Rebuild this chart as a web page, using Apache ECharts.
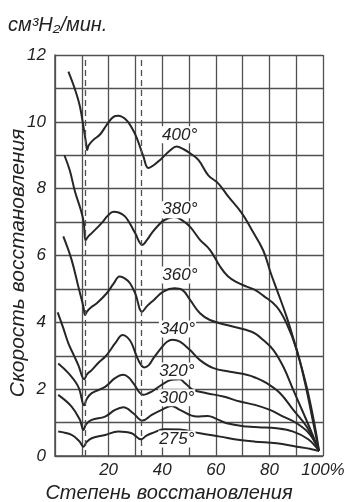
<!DOCTYPE html>
<html><head><meta charset="utf-8">
<script src="https://cdn.jsdelivr.net/npm/echarts@6/dist/echarts.min.js"></script>
<style>html,body{margin:0;padding:0;background:#fff}#c{width:348px;height:502px}</style>
</head><body><div id="c"></div>
<script>
// ---- data ----
const xLabelText = {20:'20', 40:'40', 60:'60', 80:'80', 100:'100%'};
const yLabelValues = [0, 2, 4, 6, 8, 10, 12];
const dashedX = [11.2, 32];
const curveNames = ['400°', '380°', '360°', '340°', '320°', '300°', '275°'];

const c400 = [[5,11.5],[7.5,10.96],[9.3,10.46],[10.6,9.86],[11.6,9.36],[12.0,9.16],[12.6,9.3],[14.3,9.46],[16.8,9.62],[19.3,9.91],[21.8,10.15],[23.6,10.18],[26.7,10.05],[28.8,9.8],[30.5,9.52],[33,8.96],[34.8,8.62],[36.8,8.7],[39.2,8.86],[42.9,9.14],[45.4,9.26],[48,9.18],[50.4,9.06],[53.5,8.86],[57.2,8.4],[60.9,8.16],[64.7,7.76],[69.7,7.27],[73.4,6.77],[77.7,6.15],[80.4,5.5],[82.8,4.97],[86.4,4.17],[90.2,3.17],[93.9,2.07],[97,0.88],[98.5,0.15]];
const c380 = [[3.5,9.0],[5.5,8.55],[7.5,7.9],[9.5,7.4],[10.7,7.0],[11.4,6.45],[12.2,6.55],[13.7,6.67],[17.4,6.97],[19.8,7.2],[21.8,7.31],[24,7.28],[26.1,7.17],[28,6.95],[29.9,6.67],[32.6,6.32],[34.2,6.45],[36.1,6.67],[38.5,6.9],[41,7.07],[44.5,7.15],[47.5,7.05],[50.5,6.85],[54.1,6.47],[57.8,6.17],[61.6,5.67],[64.5,5.38],[67.8,5.2],[71.5,5.07],[74.6,4.97],[77.7,4.8],[82.7,4.47],[86.4,3.97],[90.2,3.17],[93.3,2.18],[96.4,0.98],[98.5,0.15]];
const c360 = [[3.1,6.57],[6.2,5.87],[8.7,5.07],[10.6,4.47],[11.2,4.22],[12,4.33],[13.5,4.45],[15.6,4.57],[19.3,4.87],[21.8,5.15],[24.1,5.37],[26.3,5.3],[28,5.17],[30,4.85],[32.5,4.32],[34.5,4.5],[36.9,4.67],[40.4,4.92],[44.6,5.02],[47.5,4.97],[50.4,4.67],[54.1,4.27],[57.8,4.07],[64.1,3.92],[71.5,3.77],[74.6,3.67],[77.7,3.47],[81.5,3.17],[85.2,2.67],[88.9,1.98],[92.7,1.28],[96.4,0.58],[98.5,0.15]];
const c340 = [[1,4.3],[3,3.85],[5,3.37],[7,3.02],[8.7,2.72],[10.9,2.3],[12,2.45],[13.7,2.57],[16.3,2.8],[18.7,2.97],[20.5,3.15],[22.4,3.37],[25.3,3.62],[27,3.55],[28.6,3.37],[31.1,2.87],[33.3,2.65],[35,2.72],[36.5,2.9],[39.8,3.25],[41.8,3.42],[43.8,3.48],[46.6,3.42],[50.4,3.17],[54.1,2.87],[59.1,2.63],[65.3,2.52],[71.5,2.43],[74.6,2.35],[79,2.18],[84,1.88],[88.9,1.38],[93.9,0.88],[98.5,0.15]];
const c320 = [[1.2,2.77],[5,2.48],[8.7,2.07],[10.9,1.52],[11.8,1.7],[13.7,1.88],[18.7,2.07],[22.4,2.33],[25.5,2.43],[27.5,2.35],[29.2,2.18],[33,1.83],[36.1,1.93],[39.8,2.13],[43.5,2.28],[46.6,2.3],[48.5,2.18],[51.6,1.98],[56.6,1.88],[62.8,1.78],[69,1.63],[74.6,1.53],[80.2,1.38],[85.2,1.18],[90.2,0.98],[95.1,0.65],[98.5,0.15]];
const c300 = [[1.2,1.83],[6.2,1.48],[9.3,1.08],[10.6,0.78],[11.6,0.95],[13.7,1.08],[18.7,1.18],[22.4,1.38],[25.5,1.46],[29.2,1.28],[32.6,1.06],[36.1,1.23],[39.8,1.38],[43.5,1.5],[46.6,1.38],[52.9,1.18],[57,1.2],[60,1.12],[64.1,0.98],[71.5,0.88],[76,0.86],[82.7,0.83],[88.9,0.73],[94.5,0.5],[98.5,0.15]];
const c275 = [[1.2,0.73],[6.2,0.63],[9,0.45],[10.6,0.28],[11.8,0.42],[13.7,0.53],[18.7,0.63],[23.6,0.73],[28.6,0.68],[32.1,0.5],[34,0.6],[36.1,0.68],[41,0.8],[46.6,0.79],[54.1,0.68],[61.6,0.58],[69,0.48],[74.6,0.43],[82.7,0.38],[90.2,0.28],[95,0.22],[98.5,0.15]];
const curves = [c400, c380, c360, c340, c320, c300, c275];
// curve label anchors (data coordinates)
const labelAt = [[46.5,9.61],[46.6,7.37],[46.6,5.42],[45.7,3.8],[45.5,2.54],[45.4,1.74],[45.5,0.51]];

// ---- chart ----
const ink = '#262626';
const gridInk = '#505050';
const font = "'Liberation Sans', Arial, sans-serif";
const chart = echarts.init(document.getElementById('c'), null, {renderer: 'canvas'});

const series = curves.map((d, i) => ({
  type: 'line', name: curveNames[i], data: d, smooth: 0.4, showSymbol: false,
  lineStyle: {color: ink, width: 2}, z: 3, silent: true,
  markPoint: {
    symbol: 'rect', symbolSize: 0, silent: true,
    data: [{coord: labelAt[i], value: curveNames[i]}],
    label: {show: true, position: 'inside', formatter: curveNames[i], color: '#222',
      fontFamily: font, fontStyle: 'italic', fontSize: 17, backgroundColor: '#fff', padding: [0, 1]}
  }
}));
series.push({
  type: 'line', data: [], silent: true,
  markLine: {symbol: 'none', silent: true, label: {show: false},
    lineStyle: {color: gridInk, type: [6, 4], width: 1.3},
    data: dashedX.map(v => ({xAxis: v}))}
});

chart.setOption({
  backgroundColor: '#fff',
  animation: false,
  grid: {left: 55, right: 25, top: 55, bottom: 46, containLabel: false, outerBoundsMode: 'none'},
  xAxis: {
    type: 'value', min: 0, max: 100, interval: 10,
    axisLine: {show: true, lineStyle: {color: gridInk, width: 1.5}},
    axisTick: {show: false},
    splitLine: {show: true, lineStyle: {color: gridInk, width: 1.3}},
    axisLabel: {margin: 6, color: '#222', fontFamily: font, fontStyle: 'italic', fontSize: 17,
      formatter: v => xLabelText[v] || ''},
    name: 'Степень восстановления', nameLocation: 'middle', nameGap: 26,
    nameTextStyle: {color: '#222', fontFamily: font, fontStyle: 'italic', fontSize: 20, padding: [0, 40, 0, 0]}
  },
  yAxis: {
    type: 'value', min: 0, max: 12, interval: 1,
    axisLine: {show: true, lineStyle: {color: gridInk, width: 1.5}},
    axisTick: {show: false},
    splitLine: {show: true, lineStyle: {color: gridInk, width: 1.3}},
    axisLabel: {margin: 9, color: '#222', fontFamily: font, fontStyle: 'italic', fontSize: 17,
      formatter: v => yLabelValues.includes(v) ? String(v) : ''}
  },
  graphic: [{
    type: 'text', left: 8, top: 15,
    style: {text: 'см³H₂/мин.', fill: '#222', font: "italic 20px 'Liberation Sans', Arial, sans-serif"}
  }, {
    type: 'text', x: 18, y: 263, rotation: Math.PI / 2,
    style: {text: 'Скорость восстановления', fill: '#222', align: 'center', verticalAlign: 'middle',
      font: "italic 21px 'Liberation Sans', Arial, sans-serif"}
  }],
  series: series
});
</script>
</body></html>
